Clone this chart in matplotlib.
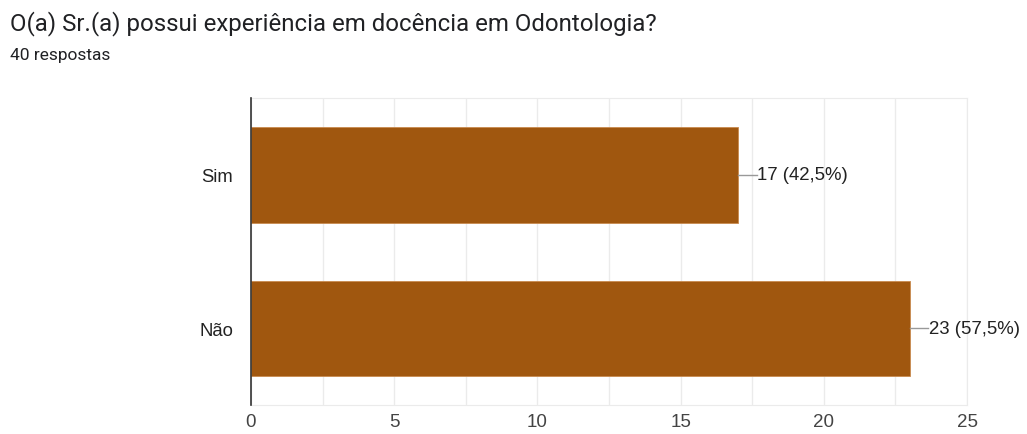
import matplotlib
matplotlib.use("Agg")
import matplotlib.pyplot as plt
import numpy as np

# survey answers
categories = ["Sim", "Não"]
counts = [17, 23]
percent_labels = ["42,5%", "57,5%"]
total = 40
x_ticks = [0, 5, 10, 15, 20, 25]

bar_color = "#A0570F"
chart_font = "Liberation Sans"

fig = plt.figure(figsize=(10.27, 4.35), dpi=100)
ax = fig.add_axes([0.2444, 0.0667, 0.6972, 0.705])

y = np.arange(len(categories))
ax.barh(y, counts, height=0.62, color=bar_color, edgecolor="#c88a4f", linewidth=0.6, zorder=3)
ax.set_ylim(len(categories) - 0.5, -0.5)
ax.set_xlim(0, 25)

ax.set_xticks(x_ticks)
ax.set_xticks(np.arange(2.5, 25, 5), minor=True)
ax.set_yticks(y)
ax.set_yticklabels(categories, family=chart_font, fontsize=13.3, color="#222222")
ax.set_xticklabels([str(t) for t in x_ticks], family=chart_font, fontsize=13.5, color="#444444")
ax.tick_params(axis="both", length=0)
ax.tick_params(axis="x", pad=6)
ax.tick_params(axis="y", pad=13)
ax.tick_params(which="minor", length=0)
ax.grid(axis="x", which="both", color="#ebebeb", linewidth=1, zorder=0)

for side in ["top", "right", "bottom"]:
    ax.spines[side].set_color("#ebebeb")
ax.spines["left"].set_color("#333333")
ax.spines["left"].set_linewidth(1.2)
ax.spines["left"].set_zorder(4)

# value labels with a short leader line
for yi, c, p in zip(y, counts, percent_labels):
    ax.plot([c, c + 0.65], [yi, yi], color="#999999", linewidth=1, zorder=4, clip_on=False)
    ax.text(c + 0.67, yi, f"{c} ({p})", va="center", ha="left", fontsize=13.4,
            family=chart_font, color="#222222")

fig.text(0.0097, 0.93, "O(a) Sr.(a) possui experiência em docência em Odontologia?",
         fontsize=17.3, color="#202124", family="Roboto", va="baseline")
fig.text(0.0097, 0.862, f"{total} respostas", fontsize=12.5, color="#202124",
         family="Roboto", va="baseline")

fig.savefig("out.png", dpi=100, facecolor="white")
